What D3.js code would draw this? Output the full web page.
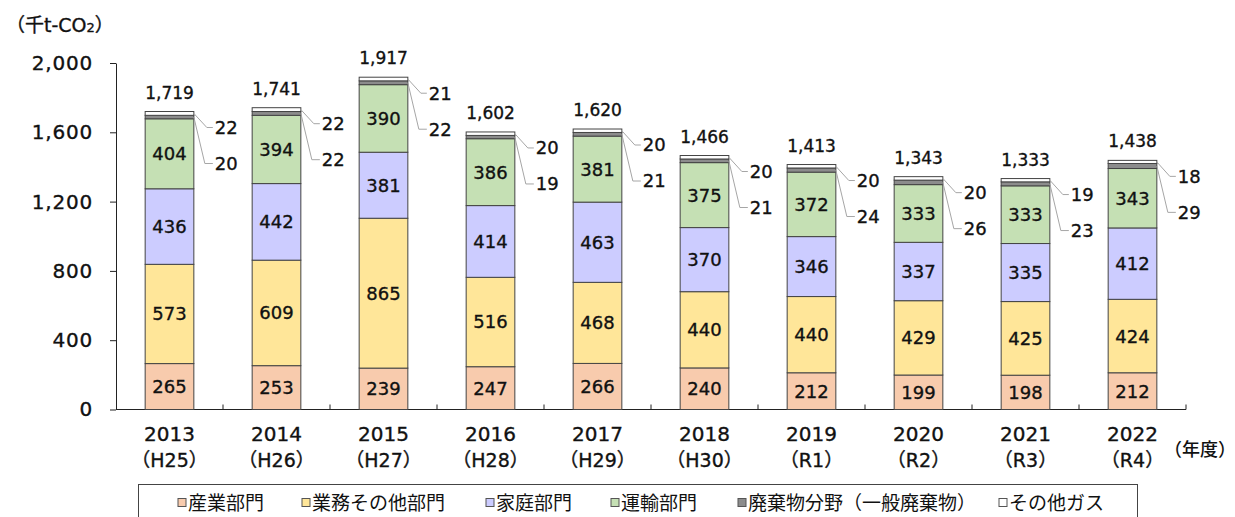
<!DOCTYPE html>
<html>
<head>
<meta charset="utf-8">
<script src="https://cdn.jsdelivr.net/npm/d3@7"></script>
<style>
  body { margin: 0; background: #fff; }
  svg { font-family: "DejaVu Sans", "Noto Sans CJK JP", sans-serif; }
  .jp { font-family: "Noto Sans CJK JP", sans-serif; }
  .num { stroke: #111; stroke-width: 0.35px; }
</style>
</head>
<body>
<div id="chart"></div>
<script>
// fiscal years
const years = ["2013", "2014", "2015", "2016", "2017", "2018", "2019", "2020", "2021", "2022"];
const eras = ["（H25）", "（H26）", "（H27）", "（H28）", "（H29）", "（H30）", "（R1）", "（R2）", "（R3）", "（R4）"];

// series, bottom to top
const seriesNames = ["産業部門", "業務その他部門", "家庭部門", "運輸部門", "廃棄物分野（一般廃棄物）", "その他ガス"];
const industry = [265, 253, 239, 247, 266, 240, 212, 199, 198, 212];
const business = [573, 609, 865, 516, 468, 440, 440, 429, 425, 424];
const household = [436, 442, 381, 414, 463, 370, 346, 337, 335, 412];
const transport = [404, 394, 390, 386, 381, 375, 372, 333, 333, 343];
const waste = [20, 22, 22, 19, 21, 21, 24, 26, 23, 29];
const otherGas = [22, 22, 21, 20, 20, 20, 20, 20, 19, 18];
const totals = [1719, 1741, 1917, 1602, 1620, 1466, 1413, 1343, 1333, 1438];

const yTicks = [0, 400, 800, 1200, 1600, 2000];
const colors = ["#f8cbad", "#ffe699", "#ccccff", "#c5e0b4", "#8c8c8c", "#ffffff"];

const width = 1235, height = 517;
const svg = d3.select("#chart").append("svg")
    .attr("width", width)
    .attr("height", height);

const x = d3.scaleBand().domain(years).range([116, 1186]).padding(0);
const y = d3.scaleLinear().domain([0, 2000]).range([409.5, 63]);
const barW = x.bandwidth() * 0.455;

// build stacked table
const table = years.map((yr, i) => ({
    year: yr,
    s0: industry[i], s1: business[i], s2: household[i],
    s3: transport[i], s4: waste[i], s5: otherGas[i]
}));
const keys = ["s0", "s1", "s2", "s3", "s4", "s5"];
const stacked = d3.stack().keys(keys)(table);

// y axis
const yAxis = svg.append("g")
    .attr("transform", "translate(116,0)")
    .call(d3.axisLeft(y).tickValues(yTicks).tickFormat(d3.format(",")).tickSize(6).tickSizeOuter(0).tickPadding(17));
yAxis.select(".domain").attr("stroke", "#222");
yAxis.selectAll(".tick line").attr("stroke", "#222");
yAxis.selectAll(".tick text")
    .attr("class", "num")
    .attr("fill", "#111")
    .style("font-size", "20px")
    .style("letter-spacing", "0.8px")
    .style("font-family", "'DejaVu Sans', sans-serif");

// x axis line with boundary ticks
svg.append("line")
    .attr("x1", 116).attr("x2", 1186)
    .attr("y1", y(0)).attr("y2", y(0))
    .attr("stroke", "#222");
svg.selectAll(".xtick")
    .data(years.map((d, i) => i + 1))
    .enter().append("line")
    .attr("x1", d => 116 + d * x.step())
    .attr("x2", d => 116 + d * x.step())
    .attr("y1", y(0)).attr("y2", y(0) - 5)
    .attr("stroke", "#222");

// bars
const layers = svg.selectAll(".layer")
    .data(stacked)
    .enter().append("g")
    .attr("fill", (d, i) => colors[i]);

layers.selectAll("rect")
    .data(d => d)
    .enter().append("rect")
    .attr("x", d => x(d.data.year) + (x.bandwidth() - barW) / 2)
    .attr("y", d => y(d[1]))
    .attr("width", barW)
    .attr("height", d => y(d[0]) - y(d[1]))
    .attr("stroke", "#444")
    .attr("stroke-width", 1);

// values inside the four big segments
stacked.slice(0, 4).forEach(layer => {
    svg.selectAll(null)
        .data(layer)
        .enter().append("text")
        .attr("class", "num")
        .attr("x", d => x(d.data.year) + x.bandwidth() / 2)
        .attr("y", d => (y(d[0]) + y(d[1])) / 2)
        .attr("dy", "0.36em")
        .attr("text-anchor", "middle")
        .style("font-size", "18px")
        .attr("fill", "#111")
        .text(d => d[1] - d[0]);
});

// totals
svg.selectAll(".total")
    .data(years)
    .enter().append("text")
    .attr("class", "num")
    .attr("x", d => x(d) + x.bandwidth() / 2)
    .attr("y", (d, i) => y(totals[i]) - 19)
    .attr("dy", "0.36em")
    .attr("text-anchor", "middle")
    .style("font-size", "17px")
    .attr("fill", "#111")
    .text((d, i) => d3.format(",")(totals[i]));

// leader lines for the two small segments
const topStack = stacked[5], wasteStack = stacked[4];
years.forEach((yr, i) => {
    const bx = x(yr) + (x.bandwidth() + barW) / 2;
    const yTop = y(topStack[i][1]);
    const yOther = (y(topStack[i][0]) + y(topStack[i][1])) / 2;
    const yWaste = (y(wasteStack[i][0]) + y(wasteStack[i][1])) / 2;
    const upper = yTop + 16, lower = yTop + 52;

    svg.append("path")
        .attr("d", `M${bx},${yOther} L${bx + 13},${upper} L${bx + 19},${upper}`)
        .attr("fill", "none").attr("stroke", "#a6a6a6");
    svg.append("path")
        .attr("d", `M${bx},${yWaste} L${bx + 11},${lower} L${bx + 19},${lower}`)
        .attr("fill", "none").attr("stroke", "#a6a6a6");

    svg.append("text")
        .attr("class", "num")
        .attr("x", bx + 21).attr("y", upper).attr("dy", "0.36em")
        .style("font-size", "18px").attr("fill", "#111")
        .text(otherGas[i]);
    svg.append("text")
        .attr("class", "num")
        .attr("x", bx + 21).attr("y", lower).attr("dy", "0.36em")
        .style("font-size", "18px").attr("fill", "#111")
        .text(waste[i]);
});

// x labels
years.forEach((yr, i) => {
    const cx = x(yr) + x.bandwidth() / 2;
    svg.append("text")
        .attr("class", "num")
        .attr("x", cx).attr("y", 434).attr("dy", "0.36em")
        .attr("text-anchor", "middle")
        .style("font-size", "20px").attr("fill", "#111")
        .text(yr);
    svg.append("text")
        .attr("class", "num")
        .attr("x", cx).attr("y", 460).attr("dy", "0.36em")
        .attr("text-anchor", "middle")
        .style("font-size", "19px").attr("fill", "#111")
        .text(eras[i]);
});

// unit labels
const unit = svg.append("text")
    .attr("class", "num")
    .attr("x", 6).attr("y", 25).attr("dy", "0.36em")
    .style("font-size", "19px").attr("fill", "#111");
unit.append("tspan").text("（千t-CO");
unit.append("tspan").style("font-size", "13px").text("2");
unit.append("tspan").text("）");

svg.append("text")
    .attr("class", "jp")
    .attr("x", 1164).attr("y", 450).attr("dy", "0.36em")
    .style("font-size", "18px").style("font-weight", "500").attr("fill", "#111")
    .text("（年度）");

// legend
svg.append("rect")
    .attr("x", 138.5).attr("y", 484.5)
    .attr("width", 999).attr("height", 40)
    .attr("fill", "none").attr("stroke", "#444");

const legendX = [178, 302, 486, 611, 738, 999];
const legend = svg.selectAll(".legend")
    .data(seriesNames)
    .enter().append("g")
    .attr("transform", (d, i) => `translate(${legendX[i]},503)`);
legend.append("rect")
    .attr("x", 0).attr("y", -4.5)
    .attr("width", 8).attr("height", 8)
    .attr("fill", (d, i) => colors[i])
    .attr("stroke", "#555");
legend.append("text")
    .attr("class", "jp")
    .attr("x", 10).attr("dy", "0.36em")
    .style("font-size", "19px")
    .attr("fill", "#111")
    .text(d => d);
</script>
</body>
</html>
